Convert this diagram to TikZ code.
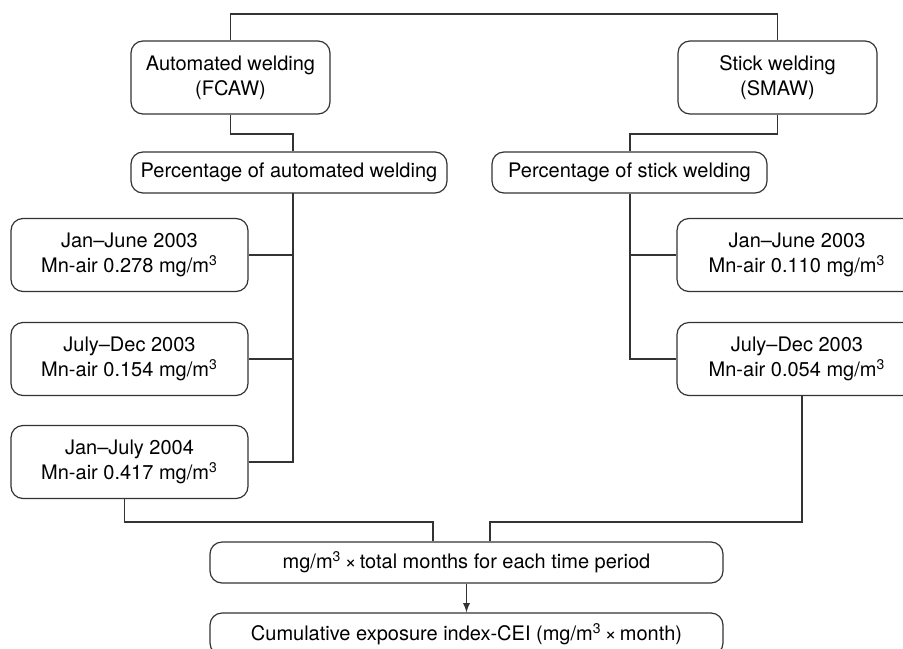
\documentclass[tikz,border=0pt]{standalone}
\usepackage{fontspec}
\setmainfont{TeX Gyre Heros}

\begin{document}
\begin{tikzpicture}[x=0.5pt, y=-0.5pt, line width=0.6pt, draw=black!80]
\tikzstyle{bx}=[draw=black!80, rounded corners=6pt, align=center, inner sep=0pt,
  font=\fontsize{10}{12.5}\selectfont]
\tikzstyle{wide}=[bx, minimum width=99.5pt, minimum height=36.5pt]
\tikzstyle{period}=[bx, minimum width=118.5pt, minimum height=36.5pt]
\clip (0,0) rectangle (903,648);
\useasboundingbox (0,0) rectangle (903,648);
% welding types
\node[wide] (auto)  at (230.5,77.5) {Automated welding\\(FCAW)};
\node[wide] (stick) at (777.5,77.5) {Stick welding\\(SMAW)};
\node[bx, minimum width=158pt,   minimum height=20.5pt] (pauto)  at (289,172.5)   {Percentage of automated welding};
\node[bx, minimum width=137.5pt, minimum height=20.5pt] (pstick) at (629.5,172.5) {Percentage of stick welding};
% time periods
\node[period] (a1) at (129.5,255) {Jan--June 2003\\Mn-air 0.278 mg/m\textsuperscript{3}};
\node[period] (a2) at (129.5,359) {July--Dec 2003\\Mn-air 0.154 mg/m\textsuperscript{3}};
\node[period] (a3) at (129.5,462) {Jan--July 2004\\Mn-air 0.417 mg/m\textsuperscript{3}};
\node[period, minimum width=120pt] (s1) at (797,255) {Jan--June 2003\\Mn-air 0.110 mg/m\textsuperscript{3}};
\node[period, minimum width=120pt] (s2) at (797,359) {July--Dec 2003\\Mn-air 0.054 mg/m\textsuperscript{3}};
% exposure
\node[bx, minimum width=256.5pt, minimum height=20.5pt] (calc) at (466.5,562.5) {mg/m\textsuperscript{3}\,×\,total months for each time period};
\node[bx, minimum width=256.5pt, minimum height=21pt]   (cei)  at (466.5,634)   {Cumulative exposure index-CEI (mg/m\textsuperscript{3}\,×\,month)};
\coordinate (top) at (500,14);
\coordinate (j1) at (293,134);
\coordinate (j2) at (630,134);
\coordinate (tl) at (293,193);
\coordinate (bl) at (433,522);
\coordinate (br) at (490,522);
\draw (auto.north) |- (top) -| (stick.north);
\draw (auto.south) |- (j1) -- (j1 |- pauto.north);
\draw (stick.south) |- (j2) -- (j2 |- pstick.north);
\draw (tl) |- (a3.east);
\draw (a1.east) -- (a1.east -| tl);
\draw (a2.east) -- (a2.east -| tl);
\draw (j2 |- pstick.south) |- (s2.west);
\draw (s1.west) -- (s1.west -| j2);
\draw ([xshift=-2.5pt]a3.south) |- (bl) -- (bl |- calc.north);
\draw ([xshift=2.5pt]s2.south) |- (br) -- (br |- calc.north);
\draw[-latex] (calc) -- (cei);
\end{tikzpicture}
\end{document}
